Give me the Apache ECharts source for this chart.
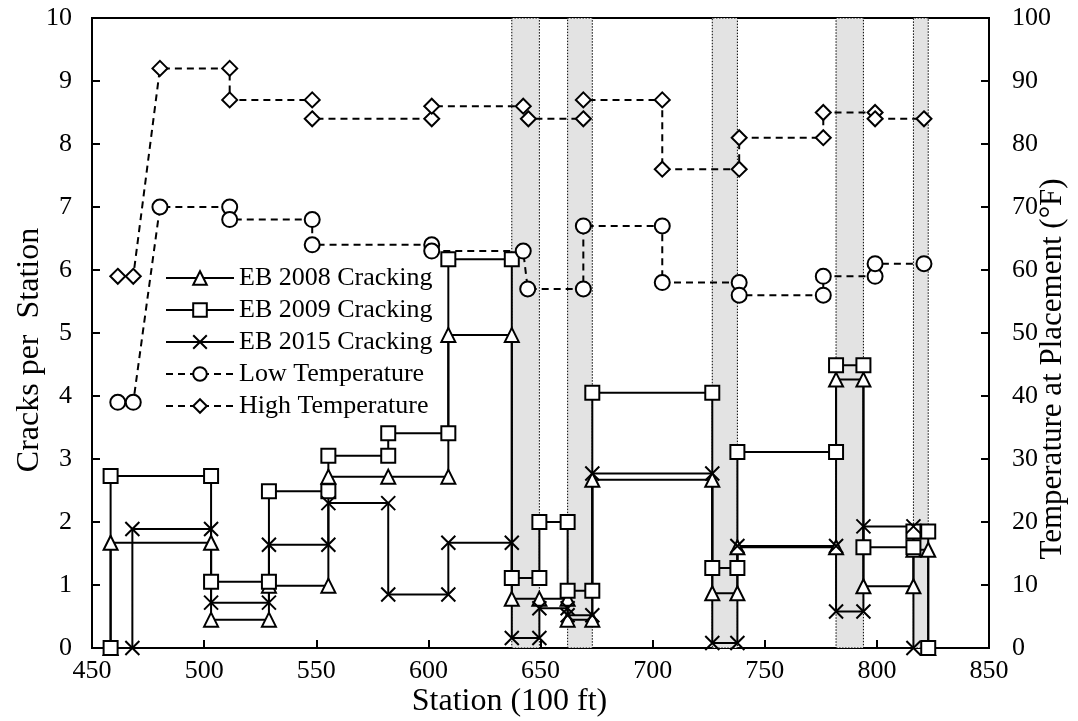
<!DOCTYPE html>
<html>
<head>
<meta charset="utf-8">
<script src="https://cdn.jsdelivr.net/npm/echarts@6/dist/echarts.min.js"></script>
<style>html,body{margin:0;padding:0;background:#fff}#c{width:1078px;height:721px}</style>
</head>
<body>
<div id="c"></div>
<script>
// ---- data (station in 100 ft, value) ----
const eb2008 = [[458.3,0],[458.3,1.67],[503.1,1.67],[503.1,0.45],[528.9,0.45],[528.9,0.99],[555.4,0.99],[555.4,2.72],[582.1,2.72],[608.9,2.72],[608.9,4.97],[637.2,4.97],[637.2,0.78],[649.5,0.78],[662.1,0.78],[662.1,0.45],[673.1,0.45],[673.1,2.67],[726.6,2.67],[726.6,0.87],[737.8,0.87],[737.8,1.6],[781.8,1.6],[781.8,4.26],[794,4.26],[794,0.98],[816.3,0.98],[816.3,1.56],[822.9,1.56],[822.9,0]];
const eb2009 = [[458.3,0],[458.3,2.73],[503.1,2.73],[503.1,1.05],[528.9,1.05],[528.9,2.49],[555.4,2.49],[555.4,3.05],[582.1,3.05],[582.1,3.41],[608.9,3.41],[608.9,6.17],[637.2,6.17],[637.2,1.11],[649.5,1.11],[649.5,2.0],[662.1,2.0],[662.1,0.91],[673.1,0.91],[673.1,4.05],[726.6,4.05],[726.6,1.27],[737.8,1.27],[737.8,3.11],[781.8,3.11],[781.8,4.49],[794,4.49],[794,1.6],[816.3,1.6],[816.3,1.85],[822.9,1.85],[822.9,0]];
const eb2015 = [[468,0],[468,1.89],[503.1,1.89],[503.1,0.72],[528.9,0.72],[528.9,1.64],[555.4,1.64],[555.4,2.3],[582.1,2.3],[582.1,0.85],[608.9,0.85],[608.9,1.67],[637.2,1.67],[637.2,0.16],[649.5,0.16],[649.5,0.63],[662.1,0.63],[662.1,0.52],[673.1,0.52],[673.1,2.77],[726.6,2.77],[726.6,0.08],[737.8,0.08],[737.8,1.62],[781.8,1.62],[781.8,0.58],[794,0.58],[794,1.93],[816.3,1.93],[816.3,0]];
const lowTemp = [[461.5,39],[468.4,39],[480.3,70],[511.4,70],[511.4,68],[548.2,68],[548.2,64],[601.5,64],[601.5,63],[642.3,63],[644.3,57],[669.1,57],[669.1,67],[704.3,67],[704.3,58],[738.6,58],[738.6,56],[776.1,56],[776.1,59],[799.2,59],[799.2,61],[821,61]];
const highTemp = [[461.5,59],[468.4,59],[480.3,92],[511.4,92],[511.4,87],[548.2,87],[548.2,84],[601.5,84],[601.5,86],[642.3,86],[644.6,84],[669.1,84],[669.1,87],[704.3,87],[704.3,76],[738.6,76],[738.6,81],[776.1,81],[776.1,85],[799.2,85],[799.2,84],[821,84]];
const bandStart = [637.2, 662.1, 726.6, 781.8, 816.3];
const bandEnd = [649.5, 673.1, 737.8, 794, 822.9];
const xTicks = [450, 850, 50];
const leftTicks = [0, 10, 1];
const rightTicks = [0, 100, 10];

const FONT = 'Liberation Serif';
const crossPath = 'path://M0,0L10,10M10,0L0,10';
const bands = bandStart.map((s, i) => [{xAxis: s}, {xAxis: bandEnd[i]}]);

function crack(name, data, symbol) {
  return {
    name, type: 'line', data, yAxisIndex: 0, z: 3,
    symbol, symbolSize: 14, showSymbol: true,
    lineStyle: {color: '#000', width: 2},
    itemStyle: {color: symbol === crossPath ? 'rgba(0,0,0,0)' : '#fff', borderColor: '#000', borderWidth: 2},
    emphasis: {disabled: true}, animation: false
  };
}
function temp(name, data, symbol) {
  return {
    name, type: 'line', data, yAxisIndex: 1, z: 3,
    symbol, symbolSize: 15,
    lineStyle: {color: '#000', width: 2, type: [7, 5]},
    itemStyle: {color: '#fff', borderColor: '#000', borderWidth: 2},
    emphasis: {disabled: true}, animation: false
  };
}

const chart = echarts.init(document.getElementById('c'));
chart.setOption({
  animation: false,
  backgroundColor: '#fff',
  textStyle: {fontFamily: FONT, color: '#000'},
  grid: {left: 92, right: 89, top: 18, bottom: 73, outerBoundsMode: 'none', containLabel: false,
         show: true, borderColor: '#000', borderWidth: 2, backgroundColor: 'transparent'},
  legend: {
    orient: 'vertical', left: 160, top: 260,
    itemWidth: 68, itemHeight: 17, itemGap: 6,
    textStyle: {fontFamily: FONT, fontSize: 26, color: '#000', lineHeight: 26},
    data: ['EB 2008 Cracking', 'EB 2009 Cracking', 'EB 2015 Cracking', 'Low Temperature', 'High Temperature'],
    selectedMode: false
  },
  xAxis: {
    type: 'value', min: xTicks[0], max: xTicks[1], interval: xTicks[2],
    name: 'Station (100 ft)', nameLocation: 'middle', nameGap: 38, nameMoveOverlap: false,
    nameTextStyle: {fontFamily: FONT, fontSize: 32, color: '#000', padding: [0, 62, 0, 0]},
    axisLine: {show: true, lineStyle: {color: '#000', width: 2}},
    axisTick: {show: true, inside: true, length: 8, lineStyle: {color: '#000', width: 2}},
    axisLabel: {fontFamily: FONT, fontSize: 26, color: '#000', margin: 10},
    splitLine: {show: false}
  },
  yAxis: [{
    type: 'value', min: leftTicks[0], max: leftTicks[1], interval: leftTicks[2],
    name: 'Cracks per  Station', nameLocation: 'middle', nameGap: 46, nameRotate: 90, nameMoveOverlap: false,
    nameTextStyle: {fontFamily: FONT, fontSize: 32, color: '#000', padding: [0, 34, 0, 0]},
    axisLine: {show: true, lineStyle: {color: '#000', width: 2}},
    axisTick: {show: true, inside: true, length: 8, lineStyle: {color: '#000', width: 2}},
    axisLabel: {fontFamily: FONT, fontSize: 26, color: '#000', margin: 20},
    splitLine: {show: false}
  }, {
    type: 'value', min: rightTicks[0], max: rightTicks[1], interval: rightTicks[2], position: 'right',
    name: 'Temperature at Placement (°F)', nameLocation: 'middle', nameGap: 48, nameRotate: 90, nameMoveOverlap: false,
    nameTextStyle: {fontFamily: FONT, fontSize: 31, color: '#000', padding: [0, 72, 0, 0]},
    axisLine: {show: true, lineStyle: {color: '#000', width: 2}},
    axisTick: {show: true, inside: true, length: 8, lineStyle: {color: '#000', width: 2}},
    axisLabel: {fontFamily: FONT, fontSize: 26, color: '#000', margin: 23},
    splitLine: {show: false}
  }],
  series: [
    {
      name: 'bandsFill', type: 'line', data: [], z: 1, silent: true,
      markArea: {silent: true, itemStyle: {color: '#e3e3e3', borderWidth: 0}, data: bands}
    },
    crack('EB 2008 Cracking', eb2008, 'triangle'),
    crack('EB 2009 Cracking', eb2009, 'rect'),
    crack('EB 2015 Cracking', eb2015, crossPath),
    temp('Low Temperature', lowTemp, 'circle'),
    temp('High Temperature', highTemp, 'diamond'),
    {
      name: 'bandsEdge', type: 'line', data: [], z: 10, silent: true,
      markArea: {silent: true, itemStyle: {color: 'rgba(0,0,0,0)', borderColor: '#000', borderWidth: 1, borderType: [1.5, 1.5]}, data: bands}
    }
  ]
});
</script>
</body>
</html>
